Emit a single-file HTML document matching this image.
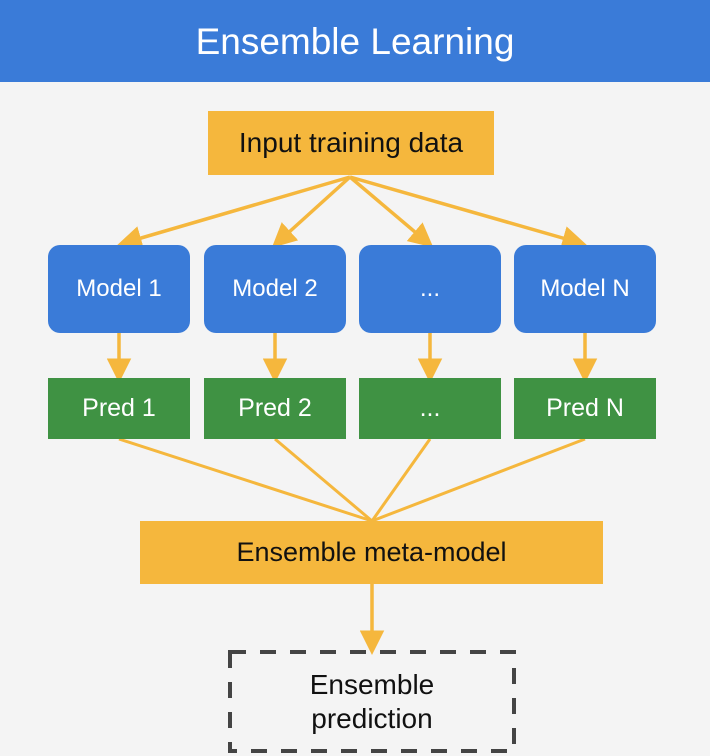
<!DOCTYPE html>
<html><head><style>
body{margin:0;width:710px;height:756px;background:#f4f4f4;overflow:hidden;font-family:"Liberation Sans",sans-serif;position:relative}
.h{position:absolute;left:0;top:0;width:710px;height:82px;background:#3a7bd8;color:#fff;font-size:37px;text-align:center;line-height:84px}
.b{position:absolute;display:flex;align-items:center;justify-content:center;text-align:center}
.y{background:#f5b73d;color:#111;font-size:28px}
.m{background:#3a7bd8;color:#fff;font-size:24px;border-radius:12px;top:245px;height:88px;width:142px}
.p{background:#3f9243;color:#fff;font-size:25px;top:378px;height:61px;width:142px}
svg{position:absolute;left:0;top:0}
</style></head><body>
<div class="h">Ensemble Learning</div>
<svg width="710" height="756">
<defs><marker id="a" markerWidth="7" markerHeight="7" refX="5" refY="3.5" orient="auto" markerUnits="strokeWidth"><path d="M0,0L7,3.5L0,7z" fill="#f5b73d"/></marker></defs>
<g stroke="#f5b73d" stroke-width="3.5" fill="none">
<line x1="350" y1="177" x2="124" y2="243" marker-end="url(#a)"/>
<line x1="350" y1="177" x2="277" y2="243" marker-end="url(#a)"/>
<line x1="350" y1="177" x2="428" y2="243" marker-end="url(#a)"/>
<line x1="350" y1="177" x2="580" y2="243" marker-end="url(#a)"/>
<line x1="119" y1="333" x2="119" y2="376" marker-end="url(#a)"/>
<line x1="275" y1="333" x2="275" y2="376" marker-end="url(#a)"/>
<line x1="430" y1="333" x2="430" y2="376" marker-end="url(#a)"/>
<line x1="585" y1="333" x2="585" y2="376" marker-end="url(#a)"/>
<line x1="119" y1="439" x2="372" y2="521" stroke-width="3"/>
<line x1="275" y1="439" x2="372" y2="521" stroke-width="3"/>
<line x1="430" y1="439" x2="372" y2="521" stroke-width="3"/>
<line x1="585" y1="439" x2="372" y2="521" stroke-width="3"/>
<line x1="372" y1="584" x2="372" y2="648" marker-end="url(#a)"/>
</g>
<rect x="230" y="652" width="284" height="99" fill="none" stroke="#444" stroke-width="4" stroke-dasharray="16,14"/>
</svg>
<div class="b y" style="left:208px;top:111px;width:286px;height:64px">Input training data</div>
<div class="b m" style="left:48px">Model 1</div>
<div class="b m" style="left:204px">Model 2</div>
<div class="b m" style="left:359px">...</div>
<div class="b m" style="left:514px">Model N</div>
<div class="b p" style="left:48px">Pred 1</div>
<div class="b p" style="left:204px">Pred 2</div>
<div class="b p" style="left:359px">...</div>
<div class="b p" style="left:514px">Pred N</div>
<div class="b y" style="left:140px;top:521px;width:463px;height:63px;font-size:27px">Ensemble meta-model</div>
<div class="b" style="left:230px;top:660px;width:284px;height:84px;font-size:28px;color:#111;line-height:34px">Ensemble<br>prediction</div>
</body></html>
